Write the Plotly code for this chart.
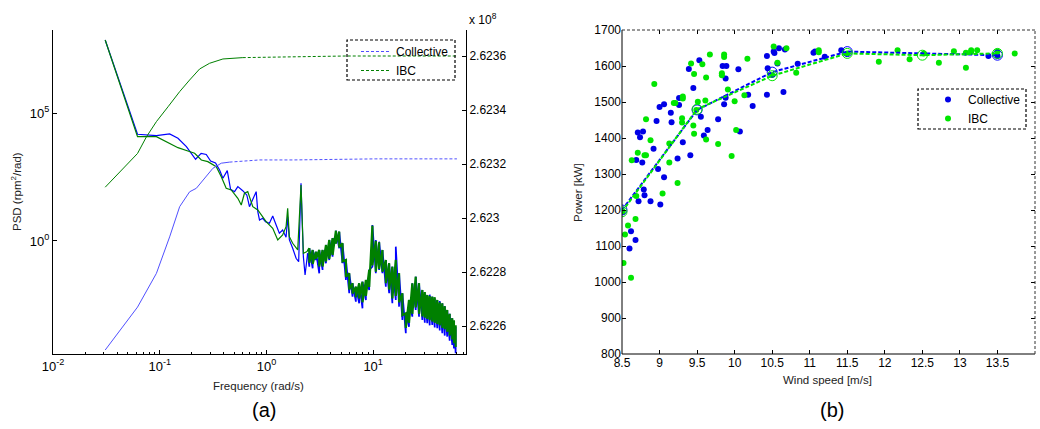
import plotly.graph_objects as go

# ====================== Panel (a): PSD of rotor speed ======================
# values: log10 of frequency [rad/s] and log10 of PSD [rpm^2/rad]
coll_logf = [-1.511, -1.208, -1.031, -0.907, -0.829, -0.750, -0.664, -0.612, -0.564, -0.523,
             -0.477, -0.439, -0.408, -0.367, -0.336, -0.299, -0.268, -0.222, -0.184, -0.159,
             -0.134, -0.096, -0.081, -0.065, -0.035, -0.009, 0.028, 0.059, 0.091, 0.121,
             0.152, 0.184, 0.199, 0.215, 0.246, 0.278, 0.302, 0.324, 0.346, 0.362, 0.386]
coll_logpsd = [7.861, 4.173, 4.118, 4.185, 4.016, 3.688, 3.195, 3.422, 3.383, 3.129,
               3.050, 2.777, 2.452, 2.749, 2.022, 1.928, 2.124, 1.967, 1.799, 1.341,
               1.576, 1.928, 1.146, 0.821, 0.888, 0.755, 0.692, 0.978, 0.626, 0.301,
               0.430, 0.145, 0.950, 0.039, -0.285, -0.677, -0.810, 2.257, -0.614, -1.330, -0.481]

ibc_logf = [-1.511, -1.208, -1.031, -0.922, -0.829, -0.736, -0.673, -0.610, -0.549, -0.470,
            -0.423, -0.377, -0.330, -0.268, -0.236, -0.206, -0.175, -0.128, -0.081, -0.003,
            0.059, 0.106, 0.152, 0.184, 0.199, 0.215, 0.246, 0.293, 0.324, 0.346, 0.386]
ibc_logpsd = [7.861, 4.079, 4.079, 3.860, 3.649, 3.520, 3.430, 3.168, 3.101, 2.906,
              2.515, 2.061, 1.995, 1.670, 1.408, 1.865, 1.928, 1.341, 1.212, 0.755,
              0.497, 0.039, 0.235, 0.559, 1.279, 0.168, -0.090, -0.352, 2.190, -0.481, -0.400]

# high-frequency part: upper / lower extent of the noisy trace at each frequency
band_logf = [0.402, 0.433, 0.464, 0.495, 0.526, 0.558, 0.589, 0.620, 0.651, 0.682,
             0.713, 0.745, 0.776, 0.807, 0.838, 0.869, 0.900, 0.932, 0.963, 0.993,
             1.025, 1.056, 1.087, 1.119, 1.150, 1.180, 1.212, 1.243, 1.274, 1.306,
             1.336, 1.367, 1.399, 1.430, 1.461, 1.484, 1.507, 1.530, 1.554, 1.577,
             1.601, 1.624, 1.648, 1.671, 1.694, 1.717, 1.741, 1.757, 1.773]
coll_band_hi = [-0.285, -0.352, -0.418, -0.352, -0.352, -0.156, 0.039, 0.106, 0.403, 0.364,
                -0.090, -0.743, -1.263, -1.654, -1.787, -1.654, -1.592, -1.525, -1.134, 0.626,
                0.039, -0.027, -0.352, -0.743, -0.872, -1.005, -0.223, -1.263, -2.045, -2.828,
                -2.307, -1.654, -1.396, -1.654, -1.916, -2.050, -2.112, -2.100, -2.178, -2.250,
                -2.307, -2.350, -2.436, -2.550, -2.698, -2.850, -3.023, -3.150, -3.352]
coll_band_lo = [-1.005, -1.068, -0.743, -1.263, -1.134, -0.872, -0.743, -0.614, -0.090, -0.285,
                -0.872, -1.525, -2.045, -2.178, -2.374, -2.436, -2.632, -2.307, -1.916, -1.005,
                -1.263, -1.134, -1.263, -1.787, -2.045, -2.436, -2.307, -2.569, -3.090, -3.610,
                -3.352, -2.960, -2.698, -2.960, -3.090, -3.200, -3.219, -3.300, -3.285, -3.380,
                -3.414, -3.500, -3.610, -3.700, -3.743, -3.900, -4.067, -4.200, -4.392]
ibc_band_hi = [-0.285, -0.352, -0.418, -0.352, -0.352, -0.156, 0.039, 0.106, 0.403, 0.364,
               -0.090, -0.743, -1.263, -1.654, -1.787, -1.654, -1.592, -1.525, -1.134, 0.600,
               0.000, -0.050, -0.352, -0.743, -0.872, -1.005, -0.743, -1.263, -2.045, -2.828,
               -2.307, -1.654, -1.396, -1.654, -1.916, -2.000, -2.112, -2.150, -2.178, -2.200,
               -2.307, -2.400, -2.436, -2.550, -2.698, -2.850, -3.023, -3.100, -3.300]
ibc_band_lo = [-0.85, -0.90, -0.70, -1.00, -1.00, -0.80, -0.70, -0.55, -0.10, -0.25,
               -0.80, -1.40, -1.90, -2.05, -2.20, -2.25, -2.40, -2.15, -1.80, -0.95,
               -1.20, -1.10, -1.20, -1.65, -1.90, -2.25, -2.15, -2.40, -2.90, -3.40,
               -3.20, -2.85, -2.60, -2.85, -2.95, -3.00, -3.05, -3.10, -3.15, -3.20,
               -3.25, -3.30, -3.40, -3.45, -3.55, -3.70, -3.85, -4.00, -4.15]

# cumulative curves (right axis)
cum_coll_logf = [-1.511, -1.208, -1.031, -0.907, -0.813, -0.720, -0.657, -0.595, -0.502, -0.423,
                 -0.346, -0.222, -0.065, 0.246, 1.025, 1.785]
cum_coll_val = [262251100, 262267000, 262279500, 262293000, 262304200, 262309700, 262311000,
                262314100, 262318400, 262320300, 262320700, 262321100, 262321500, 262321500,
                262321900, 262321900]
cum_ibc_logf = [-1.511, -1.208, -1.124, -1.031, -0.922, -0.813, -0.720, -0.626, -0.533, -0.408,
                -0.222, -0.065, 0.199, 0.745, 1.785]
cum_ibc_val = [262311400, 262323900, 262330100, 262335700, 262341200, 262346800, 262351100,
               262355200, 262357300, 262358900, 262359400, 262359500, 262359700, 262360000,
               262360000]

left_tickvals = [1, 1e5]
left_ticktext = ["10<sup>0</sup>", "10<sup>5</sup>"]
freq_tickvals = [0.01, 0.1, 1, 10]
freq_ticktext = ["10<sup>-2</sup>", "10<sup>-1</sup>", "10<sup>0</sup>", "10<sup>1</sup>"]
right_tickvals = [262260000, 262280000, 262300000, 262320000, 262340000, 262360000]
right_ticktext = ["2.6226", "2.6228", "2.623", "2.6232", "2.6234", "2.6236"]

# ====================== Panel (b): power curve ======================
coll_ws = [8.60, 8.62, 8.68, 8.69, 8.71, 8.72, 8.74, 8.77, 8.78, 8.79, 8.80, 8.88, 8.92, 8.96,
           8.98, 9.00, 9.01, 9.06, 9.06, 9.15, 9.16, 9.24, 9.26, 9.26, 9.31, 9.39, 9.41, 9.45,
           9.53, 9.55, 9.59, 9.64, 9.78, 9.84, 9.86, 9.88, 9.88, 9.89, 10.05, 10.07, 10.18,
           10.24, 10.43, 10.43, 10.44, 10.52, 10.53, 10.57, 10.59, 10.65, 10.67, 10.84, 11.05,
           11.07, 11.20, 11.42, 13.38, 13.50]
coll_pw = [1093, 1141, 1117, 1339, 1415, 1224, 1402, 1332, 1418, 1257, 1241, 1224, 1370, 1447,
           1314, 1486, 1215, 1494, 1291, 1470, 1444, 1343, 1511, 1492, 1388, 1592, 1352, 1539,
           1616, 1459, 1407, 1422, 1452, 1600, 1494, 1565, 1512, 1600, 1591, 1418, 1520,
           1489, 1628, 1520, 1594, 1640, 1636, 1607, 1649, 1528, 1646, 1606, 1637,
           1640, 1626, 1644, 1628, 1628]
ibc_ws = [8.51, 8.52, 8.54, 8.58, 8.62, 8.63, 8.68, 8.69, 8.71, 8.80, 8.82, 8.82, 8.88, 8.93,
          9.04, 9.13, 9.13, 9.19, 9.21, 9.24, 9.30, 9.30, 9.31, 9.31, 9.42, 9.45, 9.46, 9.46,
          9.49, 9.51, 9.57, 9.61, 9.62, 9.62, 9.67, 9.78, 9.83, 9.83, 9.86, 9.86, 9.91, 9.96,
          10.00, 10.02, 10.13, 10.17, 10.50, 10.52, 10.57, 10.69, 10.82, 11.12, 11.12, 11.50,
          11.92, 12.17, 12.33, 12.52, 12.72, 12.92, 13.08, 13.08, 13.15, 13.15, 13.23, 13.50, 13.73]
ibc_pw = [1195, 1053, 1132, 1157, 1012, 1338, 1175, 1239, 1359, 1352, 1352, 1452, 1394, 1550,
          1246, 1385, 1332, 1497, 1497, 1275, 1455, 1443, 1510, 1515, 1607, 1435, 1578, 1412,
          1478, 1501, 1605, 1504, 1568, 1396, 1632, 1383, 1580, 1574, 1625, 1632, 1535, 1350,
          1502, 1422, 1519, 1620, 1575, 1654, 1609, 1649, 1581, 1644, 1638, 1635,
          1612, 1644, 1619, 1635, 1609, 1641, 1637, 1595, 1644, 1639, 1644, 1640, 1635]
coll_bin_ws = [8.5, 9.5, 10.5, 11.5, 13.5]
coll_bin_pw = [1200, 1478, 1583, 1640, 1630]
ibc_bin_ws = [8.5, 9.5, 10.5, 11.5, 12.5, 13.5]
ibc_bin_pw = [1195, 1480, 1573, 1635, 1630, 1635]

# ====================== styling / layout ======================
W, H = 1040, 429
FONT = "Arial, Liberation Sans, Helvetica, sans-serif"
BLUE = "#0000ff"
DKGREEN = "#008000"
CUMBLUE = "#5050ff"
PT_BLUE = "#0000e6"
PT_GREEN = "#00e600"


def px(xp):
    return xp / W


def py(yp):
    return 1 - yp / H


def low_series(logf, logp):
    return [10 ** v for v in logf], [10 ** v for v in logp]


def band_series(start_f, start_p, bf, first, second):
    f, p = [10 ** start_f], [10 ** start_p]
    for s, a, b in zip(bf, first, second):
        f += [10 ** s, 10 ** s]
        p += [10 ** a, 10 ** b]
    return f, p


coll_f, coll_p = low_series(coll_logf, coll_logpsd)
ibc_f, ibc_p = low_series(ibc_logf, ibc_logpsd)
coll_bf, coll_bp = band_series(coll_logf[-1], coll_logpsd[-1], band_logf, coll_band_lo, coll_band_hi)
ibc_bf, ibc_bp = band_series(ibc_logf[-1], ibc_logpsd[-1], band_logf, ibc_band_hi, ibc_band_lo)
cc_f = [10 ** v for v in cum_coll_logf]
ci_f = [10 ** v for v in cum_ibc_logf]
CC_SPLIT = 10
CI_SPLIT = 10

fig = go.Figure()
fig.add_trace(go.Scatter(x=coll_f, y=coll_p, mode="lines", line=dict(color=BLUE, width=1.2),
                         showlegend=False, xaxis="x", yaxis="y"))
fig.add_trace(go.Scatter(x=coll_bf, y=coll_bp, mode="lines", line=dict(color=BLUE, width=1.7),
                         showlegend=False, xaxis="x", yaxis="y"))
fig.add_trace(go.Scatter(x=ibc_f, y=ibc_p, mode="lines", line=dict(color=DKGREEN, width=1.2),
                         showlegend=False, xaxis="x", yaxis="y"))
fig.add_trace(go.Scatter(x=ibc_bf, y=ibc_bp, mode="lines", line=dict(color=DKGREEN, width=2.2),
                         showlegend=False, xaxis="x", yaxis="y"))
# cumulative curves on the right axis
fig.add_trace(go.Scatter(x=cc_f[:CC_SPLIT + 1], y=cum_coll_val[:CC_SPLIT + 1], mode="lines",
                         line=dict(color=CUMBLUE, width=1), showlegend=False,
                         xaxis="x", yaxis="y2"))
fig.add_trace(go.Scatter(x=cc_f[CC_SPLIT:], y=cum_coll_val[CC_SPLIT:], mode="lines",
                         line=dict(color=CUMBLUE, width=1, dash="3px,2px"), name="Collective",
                         legend="legend", xaxis="x", yaxis="y2"))
fig.add_trace(go.Scatter(x=ci_f[:CI_SPLIT + 1], y=cum_ibc_val[:CI_SPLIT + 1], mode="lines",
                         line=dict(color=DKGREEN, width=1), showlegend=False,
                         xaxis="x", yaxis="y2"))
fig.add_trace(go.Scatter(x=ci_f[CI_SPLIT:], y=cum_ibc_val[CI_SPLIT:], mode="lines",
                         line=dict(color=DKGREEN, width=1, dash="3px,2px"), name="IBC",
                         legend="legend", xaxis="x", yaxis="y2"))

# panel (b)
fig.add_trace(go.Scatter(x=coll_ws, y=coll_pw, mode="markers", name="Collective",
                         marker=dict(color=PT_BLUE, size=6), legend="legend2",
                         xaxis="x3", yaxis="y3"))
fig.add_trace(go.Scatter(x=ibc_ws, y=ibc_pw, mode="markers", name="IBC",
                         marker=dict(color=PT_GREEN, size=6), legend="legend2",
                         xaxis="x3", yaxis="y3"))
fig.add_trace(go.Scatter(x=coll_bin_ws, y=coll_bin_pw, mode="lines+markers", showlegend=False,
                         line=dict(color=BLUE, width=2, dash="4px,2px"),
                         marker=dict(symbol="circle-open", size=10, color=BLUE, line=dict(width=1)),
                         xaxis="x3", yaxis="y3"))
fig.add_trace(go.Scatter(x=ibc_bin_ws, y=ibc_bin_pw, mode="lines+markers", showlegend=False,
                         line=dict(color=PT_GREEN, width=2, dash="4px,2px"),
                         marker=dict(symbol="circle-open", size=10, color=PT_GREEN, line=dict(width=1)),
                         xaxis="x3", yaxis="y3"))

minor_vals = [m * 10 ** k for k in (-2, -1, 0, 1) for m in range(2, 10) if m * 10 ** k < 74]
ydom = [py(354), py(30)]
common = dict(showgrid=False, zeroline=False, linecolor="black", linewidth=1,
              ticks="inside", tickcolor="black", ticklen=4,
              tickfont=dict(family=FONT, size=12, color="black"))

fig.update_layout(
    width=W, height=H, margin=dict(l=0, r=0, t=0, b=0, autoexpand=False),
    paper_bgcolor="white", plot_bgcolor="rgba(0,0,0,0)",
    font=dict(family=FONT, size=12, color="black"),
    xaxis=dict(domain=[px(53), px(466)], type="log", range=[-2, 1.87], anchor="y",
               showline=True, tickvals=freq_tickvals, ticktext=freq_ticktext,
               minor=dict(tickvals=minor_vals, ticks="inside", ticklen=2, tickcolor="black"),
               **{**common, "tickfont": dict(family=FONT, size=13, color="black")}),
    yaxis=dict(domain=ydom, type="log", range=[-4.42, 8.25], anchor="x", showline=True,
               tickvals=left_tickvals, ticktext=left_ticktext,
               **{**common, "tickfont": dict(family=FONT, size=13, color="black")}),
    yaxis2=dict(overlaying="y", side="right", anchor="x", range=[262249630, 262369630],
                showline=True, tickvals=right_tickvals, ticktext=right_ticktext, **common),
    xaxis3=dict(domain=[px(622), px(1035)], range=[8.5, 14], tick0=8.5, dtick=0.5, anchor="y3",
                showline=False, mirror="ticks", **common),
    yaxis3=dict(domain=ydom, range=[800, 1700], dtick=100, anchor="x3",
                showline=False, mirror="ticks", **common),
    legend=dict(x=px(356), y=py(37), xanchor="left", yanchor="top", bgcolor="rgba(0,0,0,0)",
                borderwidth=0, font=dict(family=FONT, size=12, color="black"),
                tracegroupgap=0, itemwidth=30),
    legend2=dict(x=px(928), y=py(85), xanchor="left", yanchor="top", bgcolor="rgba(0,0,0,0)",
                 borderwidth=0, font=dict(family=FONT, size=12, color="black"),
                 tracegroupgap=0, itemwidth=30),
)

shapes = [
    # legend boxes (dashed)
    dict(type="rect", xref="paper", yref="paper", x0=px(347), x1=px(455), y0=py(80), y1=py(40),
         line=dict(color="black", width=1.2, dash="3px,2px")),
    dict(type="rect", xref="paper", yref="paper", x0=px(918), x1=px(1026), y0=py(129), y1=py(89),
         line=dict(color="black", width=1.2, dash="3px,2px")),
    # panel (b) box
    dict(type="line", xref="x3 domain", yref="y3 domain", x0=0, x1=0, y0=0, y1=1,
         line=dict(color="black", width=1)),
    dict(type="line", xref="x3 domain", yref="y3 domain", x0=0, x1=1, y0=0, y1=0,
         line=dict(color="black", width=1)),
    dict(type="line", xref="x3 domain", yref="y3 domain", x0=0, x1=1, y0=1, y1=1,
         line=dict(color="#333333", width=1, dash="3px,2px")),
    dict(type="line", xref="x3 domain", yref="y3 domain", x0=1, x1=1, y0=0, y1=1,
         line=dict(color="#333333", width=1, dash="3px,2px")),
]
fig.update_layout(shapes=shapes)

ann = [
    dict(text="x 10<sup>8</sup>", x=px(467), y=py(19), xanchor="left", yanchor="middle",
         font=dict(size=12, color="black")),
    dict(text="Frequency (rad/s)", x=px(258), y=py(386), xanchor="center", yanchor="middle",
         font=dict(size=11.5, color="#222222")),
    dict(text="PSD (rpm<sup>2</sup>/rad)", x=px(16), y=py(192), xanchor="center", yanchor="middle",
         textangle=-90, font=dict(size=11.5, color="#222222")),
    dict(text="Wind speed [m/s]", x=px(827), y=py(380), xanchor="center", yanchor="middle",
         font=dict(size=11.5, color="#222222")),
    dict(text="Power [kW]", x=px(578), y=py(193), xanchor="center", yanchor="middle",
         textangle=-90, font=dict(size=11.5, color="#222222")),
    dict(text="(a)", x=px(264), y=py(410), xanchor="center", yanchor="middle",
         font=dict(size=20, color="black")),
    dict(text="(b)", x=px(832), y=py(410), xanchor="center", yanchor="middle",
         font=dict(size=20, color="black")),
]
for a in ann:
    a.update(xref="paper", yref="paper", showarrow=False)
fig.update_layout(annotations=ann)

fig.write_html("out.html")
